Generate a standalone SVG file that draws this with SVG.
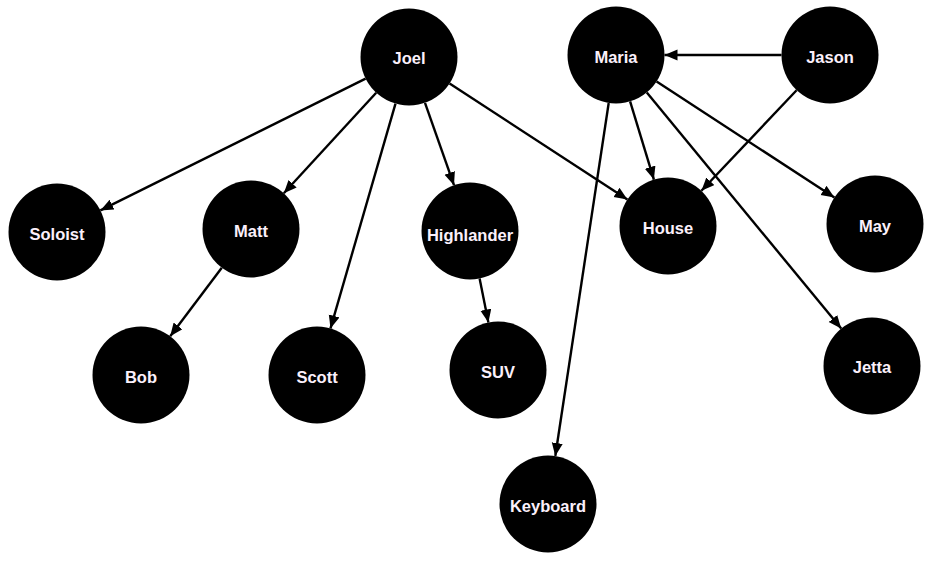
<svg xmlns="http://www.w3.org/2000/svg" width="941" height="563" viewBox="0 0 941 563">
<style>
.n circle{fill:#000}
.n text{fill:#fbf0fb;font-family:"Liberation Sans",Arial,sans-serif;font-weight:bold;font-size:16.5px;text-anchor:middle}
.e line{stroke:#000;stroke-width:2.4;marker-end:url(#ah)}
</style>
<defs>
<marker id="ah" markerUnits="userSpaceOnUse" markerWidth="14" markerHeight="12" refX="13" refY="5.5" orient="auto" viewBox="0 0 14 12">
<path d="M0,0 L13,5.5 L0,11 z" fill="#000"/>
</marker>
</defs>
<rect width="941" height="563" fill="#fff"/>
<g id="connectors" class="e">
<line x1="365.6" y1="78.6" x2="100.4" y2="210.4"/>
<line x1="376.2" y1="92.7" x2="283.8" y2="193.3"/>
<line x1="395.5" y1="103.6" x2="330.5" y2="328.4"/>
<line x1="425.0" y1="102.8" x2="454.0" y2="185.2"/>
<line x1="449.6" y1="83.5" x2="627.4" y2="199.5"/>
<line x1="630.1" y1="101.4" x2="653.9" y2="179.6"/>
<line x1="656.6" y1="81.5" x2="834.4" y2="197.5"/>
<line x1="646.8" y1="92.4" x2="841.2" y2="328.6"/>
<line x1="608.7" y1="103.0" x2="555.3" y2="456.0"/>
<line x1="781.5" y1="55" x2="664.5" y2="55"/>
<line x1="796.6" y1="90.2" x2="701.4" y2="190.8"/>
<line x1="221.8" y1="267.7" x2="170.2" y2="336.3"/>
<line x1="479.6" y1="278.5" x2="488.4" y2="322.5"/>
</g>
<g id="joel" class="n"><circle cx="409" cy="57" r="48.5"/><text x="409" y="64">Joel</text></g>
<g id="maria" class="n"><circle cx="616" cy="55" r="48.5"/><text x="616" y="63">Maria</text></g>
<g id="jason" class="n"><circle cx="830" cy="55" r="48.5"/><text x="830" y="63">Jason</text></g>
<g id="soloist" class="n"><circle cx="57" cy="232" r="48.5"/><text x="57" y="240">Soloist</text></g>
<g id="matt" class="n"><circle cx="251" cy="229" r="48.5"/><text x="251" y="237">Matt</text></g>
<g id="highlander" class="n"><circle cx="470" cy="231" r="48.5"/><text x="470" y="241">Highlander</text></g>
<g id="house" class="n"><circle cx="668" cy="226" r="48.5"/><text x="668" y="234">House</text></g>
<g id="may" class="n"><circle cx="875" cy="224" r="48.5"/><text x="875" y="232">May</text></g>
<g id="bob" class="n"><circle cx="141" cy="375" r="48.5"/><text x="141" y="383">Bob</text></g>
<g id="scott" class="n"><circle cx="317" cy="375" r="48.5"/><text x="317" y="383">Scott</text></g>
<g id="suv" class="n"><circle cx="498" cy="370" r="48.5"/><text x="498" y="378">SUV</text></g>
<g id="jetta" class="n"><circle cx="872" cy="366" r="48.5"/><text x="872" y="373">Jetta</text></g>
<g id="keyboard" class="n"><circle cx="548" cy="504" r="48.5"/><text x="548" y="512">Keyboard</text></g>
</svg>
